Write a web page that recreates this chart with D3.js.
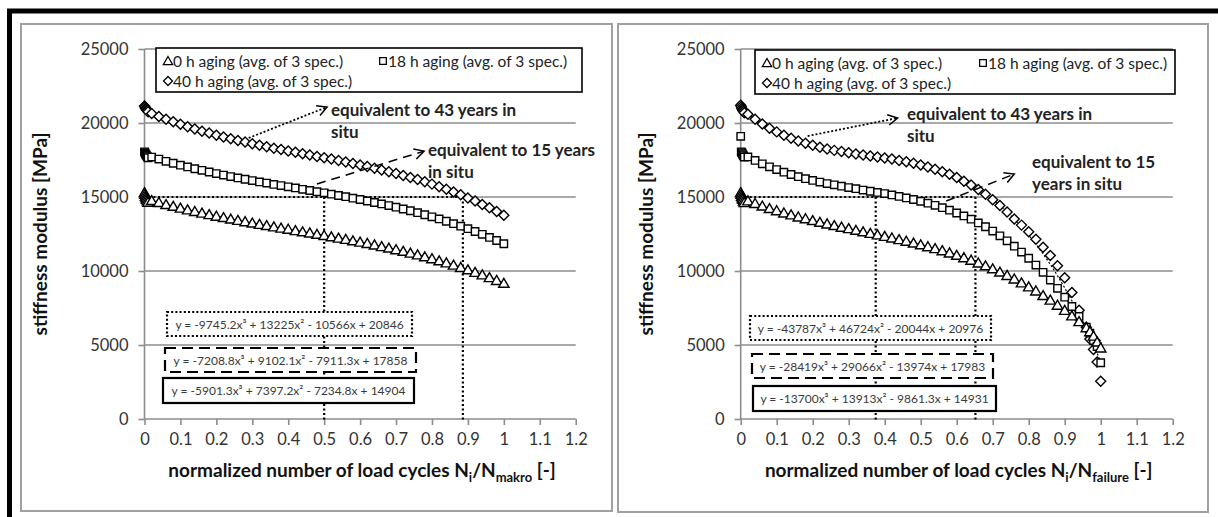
<!DOCTYPE html>
<html>
<head>
<meta charset="utf-8">
<script src="https://cdn.jsdelivr.net/npm/d3@7"></script>
<style>
  body { margin: 0; background: #fff; }
  text { font-family: Lato, "Open Sans", sans-serif; }
</style>
</head>
<body>
<svg id="chart" width="1218" height="517"></svg>
<script>
var xTicks = [0, 0.1, 0.2, 0.3, 0.4, 0.5, 0.6, 0.7, 0.8, 0.9, 1, 1.1, 1.2];
var yTicks = [0, 5000, 10000, 15000, 20000, 25000];
var seriesNames = ["0 h aging (avg. of 3 spec.)", "18 h aging (avg. of 3 spec.)", "40 h aging (avg. of 3 spec.)"];

// left chart: N_i / N_makro
var xsMakro = [0, 0.0015, 0.003, 0.0045, 0.006, 0.008, 0.01, 0.02, 0.04, 0.06, 0.08, 0.1, 0.12, 0.14, 0.16, 0.18, 0.2, 0.22, 0.24, 0.26, 0.28, 0.3,
    0.32, 0.34, 0.36, 0.38, 0.4, 0.42, 0.44, 0.46, 0.48, 0.5, 0.52, 0.54, 0.56, 0.58, 0.6, 0.62, 0.64, 0.66, 0.68, 0.7,
    0.72, 0.74, 0.76, 0.78, 0.8, 0.82, 0.84, 0.86, 0.88, 0.9, 0.92, 0.94, 0.96, 0.98, 1];
var tri0hMakro = [15300, 15180, 15050, 14950, 14850, 14750, 14650, 14760, 14630, 14490, 14370, 14250, 14130, 14020, 13910, 13810, 13700, 13610, 13510, 13420, 13330, 13240,
    13150, 13070, 12980, 12900, 12820, 12730, 12650, 12570, 12480, 12400, 12310, 12220, 12140, 12040, 11950, 11860, 11760, 11650, 11550, 11440,
    11330, 11210, 11090, 10960, 10830, 10690, 10550, 10400, 10240, 10080, 9910, 9740, 9550, 9360, 9170];
var sq18hMakro = [18050, 17980, 17900, 17840, 17780, 17720, 17650, 17700, 17560, 17410, 17280, 17150, 17030, 16910, 16800, 16690, 16580, 16480, 16380, 16290, 16200, 16110,
    16020, 15940, 15850, 15770, 15690, 15610, 15520, 15440, 15360, 15280, 15190, 15100, 15020, 14920, 14830, 14730, 14630, 14530, 14420, 14310,
    14190, 14070, 13940, 13800, 13660, 13520, 13360, 13200, 13030, 12860, 12670, 12480, 12270, 12060, 11840];
var dia40hMakro = [21150, 21080, 21000, 20940, 20880, 20820, 20760, 20640, 20440, 20260, 20080, 19910, 19750, 19600, 19450, 19320, 19180, 19060, 18940, 18820, 18710, 18600,
    18500, 18400, 18300, 18210, 18110, 18020, 17930, 17840, 17740, 17650, 17560, 17460, 17370, 17270, 17160, 17060, 16950, 16830, 16710, 16590,
    16460, 16320, 16180, 16030, 15870, 15700, 15530, 15340, 15150, 14940, 14730, 14500, 14270, 14020, 13760];
var coefMakro = [[14904, -7234.8, 7397.2, -5901.3], [17858, -7911.3, 9102.1, -7208.8], [20846, -10566, 13225, -9745.2]];
var eqMakro = ["y = -5901.3x³ + 7397.2x² - 7234.8x + 14904", "y = -7208.8x³ + 9102.1x² - 7911.3x + 17858", "y = -9745.2x³ + 13225x² - 10566x + 20846"];

// right chart: N_i / N_failure
var xsFailure = [0, 0.0015, 0.003, 0.0045, 0.006, 0.008, 0.01, 0.02, 0.04, 0.06, 0.08, 0.1, 0.12, 0.14, 0.16, 0.18, 0.2, 0.22, 0.24, 0.26, 0.28, 0.3,
    0.32, 0.34, 0.36, 0.38, 0.4, 0.42, 0.44, 0.46, 0.48, 0.5, 0.52, 0.54, 0.56, 0.58, 0.6, 0.62, 0.64, 0.66, 0.68, 0.7,
    0.72, 0.74, 0.76, 0.78, 0.8, 0.82, 0.84, 0.86, 0.88, 0.9, 0.92, 0.94, 0.96, 0.97, 0.98, 0.99, 1];
var tri0hFailure = [15300, 15180, 15050, 14950, 14850, 14730, 14620, 14740, 14560, 14390, 14220, 14070, 13920, 13790, 13650, 13530, 13410, 13290, 13180, 13070, 12960, 12860,
    12750, 12650, 12540, 12440, 12340, 12230, 12120, 12010, 11890, 11770, 11640, 11510, 11370, 11220, 11060, 10900, 10730, 10540, 10350, 10150,
    9930, 9700, 9460, 9200, 8930, 8650, 8340, 8030, 7690, 7340, 6970, 6580, 6170, 5900, 5600, 5200, 4800];
var sq18hFailure = [19100, 18050, 18000, 17930, 17850, 17780, 17700, 17710, 17470, 17240, 17040, 16850, 16680, 16520, 16370, 16240, 16120, 16010, 15910, 15820, 15730, 15640,
    15560, 15470, 15390, 15310, 15230, 15140, 15040, 14940, 14830, 14710, 14580, 14440, 14280, 14110, 13920, 13720, 13500, 13250, 12990, 12700,
    12380, 12040, 11680, 11280, 10860, 10400, 9910, 9390, 8830, 8230, 7600, 6930, 6200, 5800, 5300, 4900, 3800];
var dia40hFailure = [21200, 21100, 21000, 20920, 20850, 20780, 20700, 20590, 20250, 19930, 19650, 19400, 19170, 18970, 18790, 18630, 18490, 18360, 18250, 18150, 18070, 17990,
    17910, 17840, 17770, 17700, 17630, 17560, 17470, 17380, 17280, 17160, 17030, 16880, 16710, 16530, 16310, 16070, 15810, 15510, 15180, 14820,
    14420, 13990, 13510, 13100, 12650, 12150, 11600, 11050, 10350, 9550, 8550, 7350, 6200, 5400, 4700, 3850, 2550];
var coefFailure = [[14931, -9861.3, 13913, -13700], [17983, -13974, 29066, -28419], [20976, -20044, 46724, -43787]];
var eqFailure = ["y = -13700x³ + 13913x² - 9861.3x + 14931", "y = -28419x³ + 29066x² - 13974x + 17983", "y = -43787x³ + 46724x² - 20044x + 20976"];

var svg = d3.select("#chart");

var dashFor = ["none", "10,5", "2,2"];
var markerPath = [
    "M0,-5L5.2,4L-5.2,4Z",
    "M-3.7,-3.7H3.7V3.7H-3.7Z",
    "M0,-5L5,0L0,5L-5,0Z"
];

// outer black frame (cropped at right and bottom)
svg.append("rect")
    .attr("x", 9.5).attr("y", 11)
    .attr("width", 1240).attr("height", 540)
    .attr("fill", "none").attr("stroke", "#000").attr("stroke-width", 5);

function drawPanel(cfg) {
    var g = svg.append("g"),
        x = d3.scaleLinear().domain([0, 1.2]).range([cfg.x0, cfg.x1]),
        y = d3.scaleLinear().domain([0, 25000]).range([419, 49]),
        seriesY = [cfg.tri, cfg.sq, cfg.dia],
        i;

    g.append("rect")
        .attr("x", cfg.box[0]).attr("y", cfg.box[1])
        .attr("width", cfg.box[2]).attr("height", cfg.box[3])
        .attr("fill", "#fff").attr("stroke", "#a0a0a0").attr("stroke-width", 2);

    // gridlines
    g.selectAll(".grid")
        .data(yTicks.filter(function (d) { return d > 0; }))
        .enter()
        .append("line")
        .attr("x1", cfg.x0).attr("x2", cfg.x1)
        .attr("y1", function (d) { return y(d); })
        .attr("y2", function (d) { return y(d); })
        .attr("stroke", "#8c8c8c").attr("stroke-width", 1.6);

    var yAxis = g.append("g")
        .attr("transform", "translate(" + cfg.x0 + ",0)")
        .call(d3.axisLeft(y).tickValues(yTicks).tickSize(6).tickPadding(10).tickFormat(d3.format("d")));
    var xAxis = g.append("g")
        .attr("transform", "translate(0," + y(0) + ")")
        .call(d3.axisBottom(x).tickValues(xTicks).tickSize(6).tickPadding(8).tickFormat(function (d) { return String(d); }));

    [yAxis, xAxis].forEach(function (ax) {
        ax.select(".domain").attr("stroke", "#8c8c8c").attr("stroke-width", 1.6);
        ax.selectAll(".tick line").attr("stroke", "#8c8c8c").attr("stroke-width", 1.6);
        ax.selectAll(".tick text")
            .attr("fill", "#333")
            .style("font-size", "16.5px")
            .style("font-family", "Lato, sans-serif");
    });
    yAxis.select(".domain").attr("d", "M0," + y(0) + "V" + y(25000));
    xAxis.select(".domain").attr("d", "M" + cfg.x0 + ",0H" + cfg.x1);

    // reference lines at 15000
    var dotted = g.append("g")
        .attr("fill", "none").attr("stroke", "#000")
        .attr("stroke-width", 2.2).attr("stroke-dasharray", "2,2.5");
    dotted.append("line")
        .attr("x1", x(0)).attr("x2", x(cfg.cross[1]))
        .attr("y1", y(15000)).attr("y2", y(15000));
    cfg.cross.forEach(function (cx) {
        dotted.append("line")
            .attr("x1", x(cx)).attr("x2", x(cx))
            .attr("y1", y(15000)).attr("y2", y(0) + 3);
    });

    // equation boxes
    for (i = 0; i < 3; i++) {
        var b = cfg.eqBox[i];
        g.append("rect")
            .attr("x", b[0]).attr("y", b[1]).attr("width", b[2]).attr("height", b[3])
            .attr("fill", "#fff").attr("stroke", "#000")
            .attr("stroke-width", 2.2)
            .attr("stroke-dasharray", i === 0 ? null : (i === 1 ? "11,6" : "2,2.2"));
        g.append("text")
            .attr("x", b[0] + b[2] / 2).attr("y", b[1] + b[3] / 2 + 4.5)
            .attr("text-anchor", "middle")
            .attr("fill", "#3a3a3a")
            .style("font-size", "12px")
            .text(cfg.eq[i]);
    }

    // trendlines
    var line = d3.line()
        .x(function (d) { return x(d[0]); })
        .y(function (d) { return y(d[1]); });
    cfg.coef.forEach(function (c, k) {
        var pts = d3.range(0, 1.0001, 0.01).map(function (t) {
            return [t, c[0] + c[1] * t + c[2] * t * t + c[3] * t * t * t];
        });
        g.append("path")
            .datum(pts)
            .attr("d", line)
            .attr("fill", "none").attr("stroke", "#000").attr("stroke-width", 1.2)
            .attr("stroke-dasharray", dashFor[k] === "none" ? null : dashFor[k]);
    });

    // markers
    [2, 1, 0].forEach(function (k) {
        g.append("g").selectAll("path")
            .data(cfg.xs.map(function (xv, j) { return [xv, seriesY[k][j]]; }))
            .enter()
            .append("path")
            .attr("d", markerPath[k])
            .attr("transform", function (d) { return "translate(" + x(d[0]) + "," + y(d[1]) + ")"; })
            .attr("fill", "#fff").attr("stroke", "#000").attr("stroke-width", 1.4);
    });

    // legend
    var lg = cfg.legend;
    g.append("rect")
        .attr("x", lg[0]).attr("y", lg[1]).attr("width", lg[2]).attr("height", lg[3])
        .attr("fill", "#fff").attr("stroke", "#000").attr("stroke-width", 1.6);
    var legendItems = [
        { k: 0, mx: lg[0] + 12, my: lg[1] + 13 },
        { k: 1, mx: lg[0] + lg[4], my: lg[1] + 13 },
        { k: 2, mx: lg[0] + 12, my: lg[1] + 33 }
    ];
    legendItems.forEach(function (it) {
        g.append("path")
            .attr("d", markerPath[it.k])
            .attr("transform", "translate(" + it.mx + "," + it.my + ") scale(0.9)")
            .attr("fill", "#fff").attr("stroke", "#000").attr("stroke-width", 1.4);
        g.append("text")
            .attr("x", it.mx + 5).attr("y", it.my + 5.5)
            .attr("fill", "#222")
            .style("font-size", "15.5px")
            .text(seriesNames[it.k]);
    });

    // annotations with arrows
    cfg.notes.forEach(function (n) {
        var p0 = [x(n.from[0]), y(n.from[1])],
            p1 = [x(n.to[0]), y(n.to[1])],
            ang = Math.atan2(p1[1] - p0[1], p1[0] - p0[0]),
            h = 11;
        g.append("line")
            .attr("x1", p0[0]).attr("y1", p0[1]).attr("x2", p1[0]).attr("y2", p1[1])
            .attr("stroke", "#000").attr("stroke-width", n.dash === "dot" ? 1.8 : 1.5)
            .attr("stroke-dasharray", n.dash === "dot" ? "2,2" : "9,6");
        g.append("path")
            .attr("d", "M" + (p1[0] - h * Math.cos(ang - 0.5)) + "," + (p1[1] - h * Math.sin(ang - 0.5)) +
                "L" + p1[0] + "," + p1[1] +
                "L" + (p1[0] - h * Math.cos(ang + 0.5)) + "," + (p1[1] - h * Math.sin(ang + 0.5)))
            .attr("fill", "none").attr("stroke", "#000").attr("stroke-width", 1.5);
        n.lines.forEach(function (t, li) {
            g.append("text")
                .attr("x", n.tx).attr("y", n.ty + li * 22)
                .attr("fill", "#222")
                .style("font-size", "17px").style("font-weight", "bold")
                .text(t);
        });
    });

    // axis titles
    g.append("text")
        .attr("transform", "translate(" + cfg.yTitleX + "," + y(12500) + ") rotate(-90)")
        .attr("text-anchor", "middle")
        .attr("fill", "#111")
        .style("font-size", "19px").style("font-weight", "bold")
        .text("stiffness modulus [MPa]");

    var xt = g.append("text")
        .attr("x", (cfg.x0 + cfg.x1) / 2 + 2).attr("y", 477)
        .attr("text-anchor", "middle")
        .attr("fill", "#111")
        .style("font-size", "19px").style("font-weight", "bold");
    xt.append("tspan").text("normalized number of load cycles N");
    xt.append("tspan").attr("dy", 5).style("font-size", "13px").text("i");
    xt.append("tspan").attr("dy", -5).text("/N");
    xt.append("tspan").attr("dy", 5).style("font-size", "13px").text(cfg.sub);
    xt.append("tspan").attr("dy", -5).text(" [-]");
}

drawPanel({
    box: [21, 24, 591, 487],
    x0: 144.5, x1: 575.7,
    xs: xsMakro, tri: tri0hMakro, sq: sq18hMakro, dia: dia40hMakro,
    coef: coefMakro, eq: eqMakro,
    eqBox: [[163, 378, 251, 25], [165, 348, 251, 24], [167, 312, 245, 24]],
    cross: [0.5, 0.886],
    legend: [156, 48, 426, 44, 227],
    notes: [
        { from: [0.29, 18990], to: [0.508, 21080], dash: "dot", tx: 331, ty: 116, lines: ["equivalent to 43 years in", "situ"] },
        { from: [0.48, 15880], to: [0.778, 18100], dash: "dash", tx: 428, ty: 156, lines: ["equivalent to 15 years", "in situ"] }
    ],
    yTitleX: 47,
    sub: "makro"
});

drawPanel({
    box: [618, 24, 590, 488],
    x0: 740.7, x1: 1172.7,
    xs: xsFailure, tri: tri0hFailure, sq: sq18hFailure, dia: dia40hFailure,
    coef: coefFailure, eq: eqFailure,
    eqBox: [[753, 386, 243, 25], [752, 354, 241, 24], [750, 316, 241, 24]],
    cross: [0.375, 0.652],
    legend: [755, 50, 420, 44, 228],
    notes: [
        { from: [0.186, 19120], to: [0.436, 20340], dash: "dot", tx: 907, ty: 120, lines: ["equivalent to 43 years in", "situ"] },
        { from: [0.571, 14730], to: [0.76, 16550], dash: "dash", tx: 1032, ty: 168, lines: ["equivalent to 15", "years in situ"] }
    ],
    yTitleX: 653,
    sub: "failure"
});
</script>
</body>
</html>
